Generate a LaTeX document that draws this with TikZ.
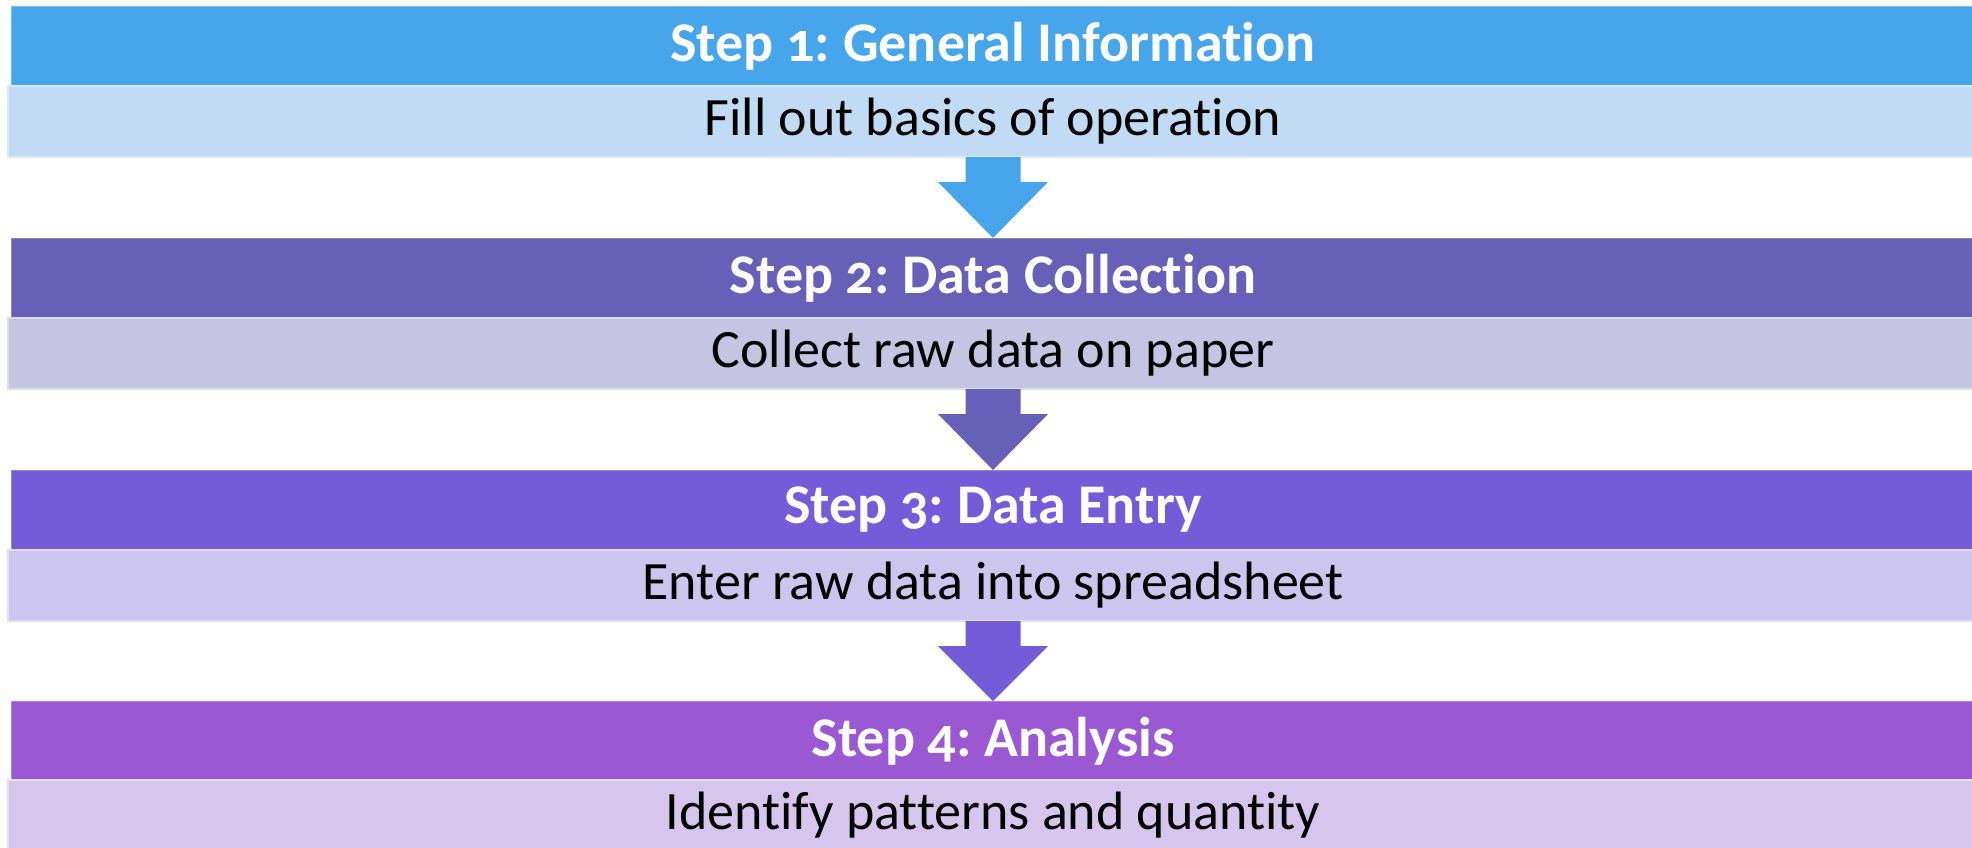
\documentclass[tikz,border=0pt]{standalone}
\usepackage{fontspec}
\setmainfont{Carlito}[Numbers=OldStyle, Ligatures=NoCommon, Contextuals=NoAlternate, RawFeature=-clig]
\frenchspacing
\usetikzlibrary{calc}
\definecolor{hA}{HTML}{46A5EB}
\definecolor{lA}{HTML}{C1DBF5}
\definecolor{hB}{HTML}{675FB8}
\definecolor{lB}{HTML}{C5C5E3}
\definecolor{hC}{HTML}{745CD9}
\definecolor{lC}{HTML}{CCC6EF}
\definecolor{hD}{HTML}{9A58D3}
\definecolor{lD}{HTML}{D6C5EC}
\tikzset{
  headbox/.style={rectangle, inner sep=0pt, outer sep=0pt, minimum width=982pt, minimum height=40pt,
    text=white, font=\fontsize{28}{30}\selectfont\bfseries\frenchspacing, draw=#1!75!white, line width=0.4pt, fill=#1},
  lightbox/.style={rectangle, inner sep=0pt, outer sep=0pt, minimum width=985pt, minimum height=35.5pt,
    text=black, font=\fontsize{27}{30}\selectfont\frenchspacing, draw=#1!60!white, line width=0.8pt, fill=#1},
}
\newcommand{\blockarrow}[3]{%
  \fill[#1] ($(#2.south)+(-27.5,0)$) -- ($(#2.south)+(-27.5,25)$) -- ($(#2.south)+(-55,25)$)
    -- (#3.north) -- ($(#2.south)+(55,25)$) -- ($(#2.south)+(27.5,25)$) -- ($(#2.south)+(27.5,0)$) -- cycle;}
\begin{document}
\begin{tikzpicture}[x=0.5pt,y=-0.5pt]
\useasboundingbox (0,0) rectangle (1972,847);
\fill[white] (0,0) rectangle (1972,847);
\node[headbox=hA] (h1) at (993,46) {Step 1: General Information};
\node[lightbox=lA] (l1) at (993,121.5) {Fill out basics of operation};
\node[headbox=hB] (h2) at (993,278) {Step 2: Data Collection};
\node[lightbox=lB] (l2) at (993,353.5) {Collect raw data on paper};
\node[headbox=hC] (h3) at (993,510) {Step 3: Data Entry};
\node[lightbox=lC] (l3) at (993,585.5) {Enter raw data into spreadsheet};
\node[headbox=hD] (h4) at (993,741) {Step 4: Analysis};
\node[lightbox=lD] (l4) at (993,815.5) {Identify patterns and quantity};
\blockarrow{hA}{l1}{h2}
\blockarrow{hB}{l2}{h3}
\blockarrow{hC}{l3}{h4}
\end{tikzpicture}
\end{document}
